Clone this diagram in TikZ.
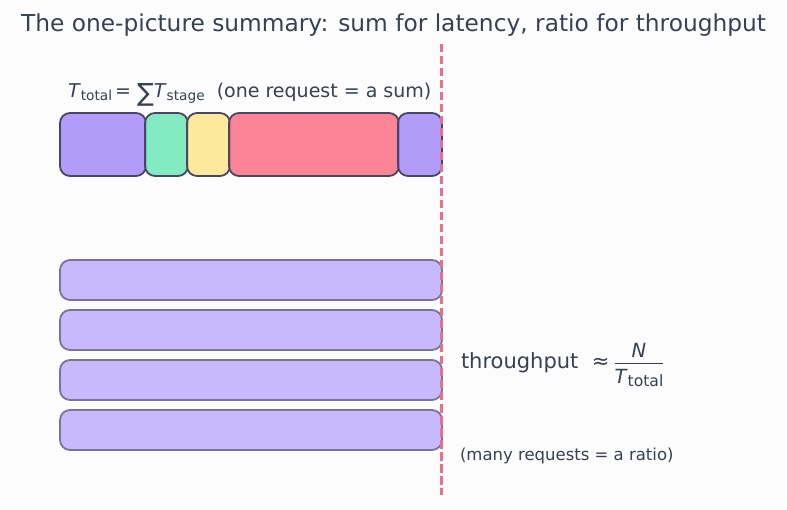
\documentclass[tikz,border=0pt]{standalone}
\usepackage{fontspec}
\setmainfont{DejaVu Sans}
\usepackage{amsmath}
\usepackage{graphicx}
\usetikzlibrary{positioning}
\definecolor{bgc}{HTML}{FCFCFD}
\definecolor{ink}{HTML}{374151}
\definecolor{edge}{HTML}{474764}
\definecolor{violet}{HTML}{A78BFA}
\definecolor{mint}{HTML}{6EE7B7}
\definecolor{sand}{HTML}{FDE68A}
\definecolor{rose}{HTML}{FB7185}
\definecolor{lilac}{HTML}{C8B8FC}
\definecolor{lilacedge}{HTML}{7A7497}
\definecolor{cutc}{HTML}{EB6F86}
\newcommand{\sbt}[2][0.72]{\raisebox{-0.15em}{\scalebox{#1}{#2}}}

\begin{document}
\begin{tikzpicture}[x=1pt, y=-1pt, inner sep=0pt, outer sep=0pt,
      seg/.style={draw=edge, line width=1.8pt, rounded corners=10pt,
        fill opacity=0.85, minimum height=63pt, anchor=west},
      req/.style={draw=lilacedge, fill=lilac, line width=1.8pt,
        rounded corners=10pt, minimum width=382pt, minimum height=40pt,
        anchor=north west},
      txt/.style={text=ink, anchor=base west},
      cut/.style={draw=cutc, line width=3pt, dash pattern=on 8.5pt off 3.5pt}]
      \fill[bgc] (0,0) rectangle (787,510);
      \node[txt, anchor=base, font=\fontsize{23.3}{26}\selectfont] (title) at (393.5,32)
        {The one-picture summary: sum for latency, ratio for throughput};
      % one request: stages add up
      \node[txt, font=\fontsize{19}{22}\selectfont] (sumlbl) at (68,98)
        {\textit{T}\sbt{total}\kern3pt=\kern6pt\raisebox{-0.2em}{\fontsize{25}{25}\selectfont ∑}\textit{T}\sbt{stage}\ \ (one request = a sum)};
      \node[seg, fill=violet, minimum width=86pt] (s_1) at (60,144.5) {};
      \node[seg, fill=mint, minimum width=43pt] (s_2) at (145,144.5) {};
      \node[seg, fill=sand, minimum width=43pt] (s_3) at (187,144.5) {};
      \node[seg, fill=rose, minimum width=170pt] (s_4) at (229,144.5) {};
      \node[seg, fill=violet, minimum width=44pt] (s_5) at (398,144.5) {};
      % many requests in flight
      \foreach \i in {0,...,3}
        \node[req] (r_\i) at (60,{260+50*\i}) {};
      \node[txt, font=\fontsize{21}{24}\selectfont] (thru) at (461,369)
        {throughput \ ≈\kern4pt$\genfrac{}{}{0.9pt}{0}{\hbox{\raisebox{-3pt}{\fontsize{19.5}{22}\selectfont\textit{N}}}}{\hbox{\fontsize{19.5}{22}\selectfont\textit{T}\sbt[0.8]{total}}}$};
      \node[txt, font=\fontsize{16.5}{19}\selectfont] (many) at (460,460)
        {(many requests = a ratio)};
      % cut line
      \coordinate (cuttop) at (441,44);
      \coordinate (cutbot) at (441,495);
      \draw[cut] (cuttop) -- (cutbot);
  \end{tikzpicture}
\end{document}
